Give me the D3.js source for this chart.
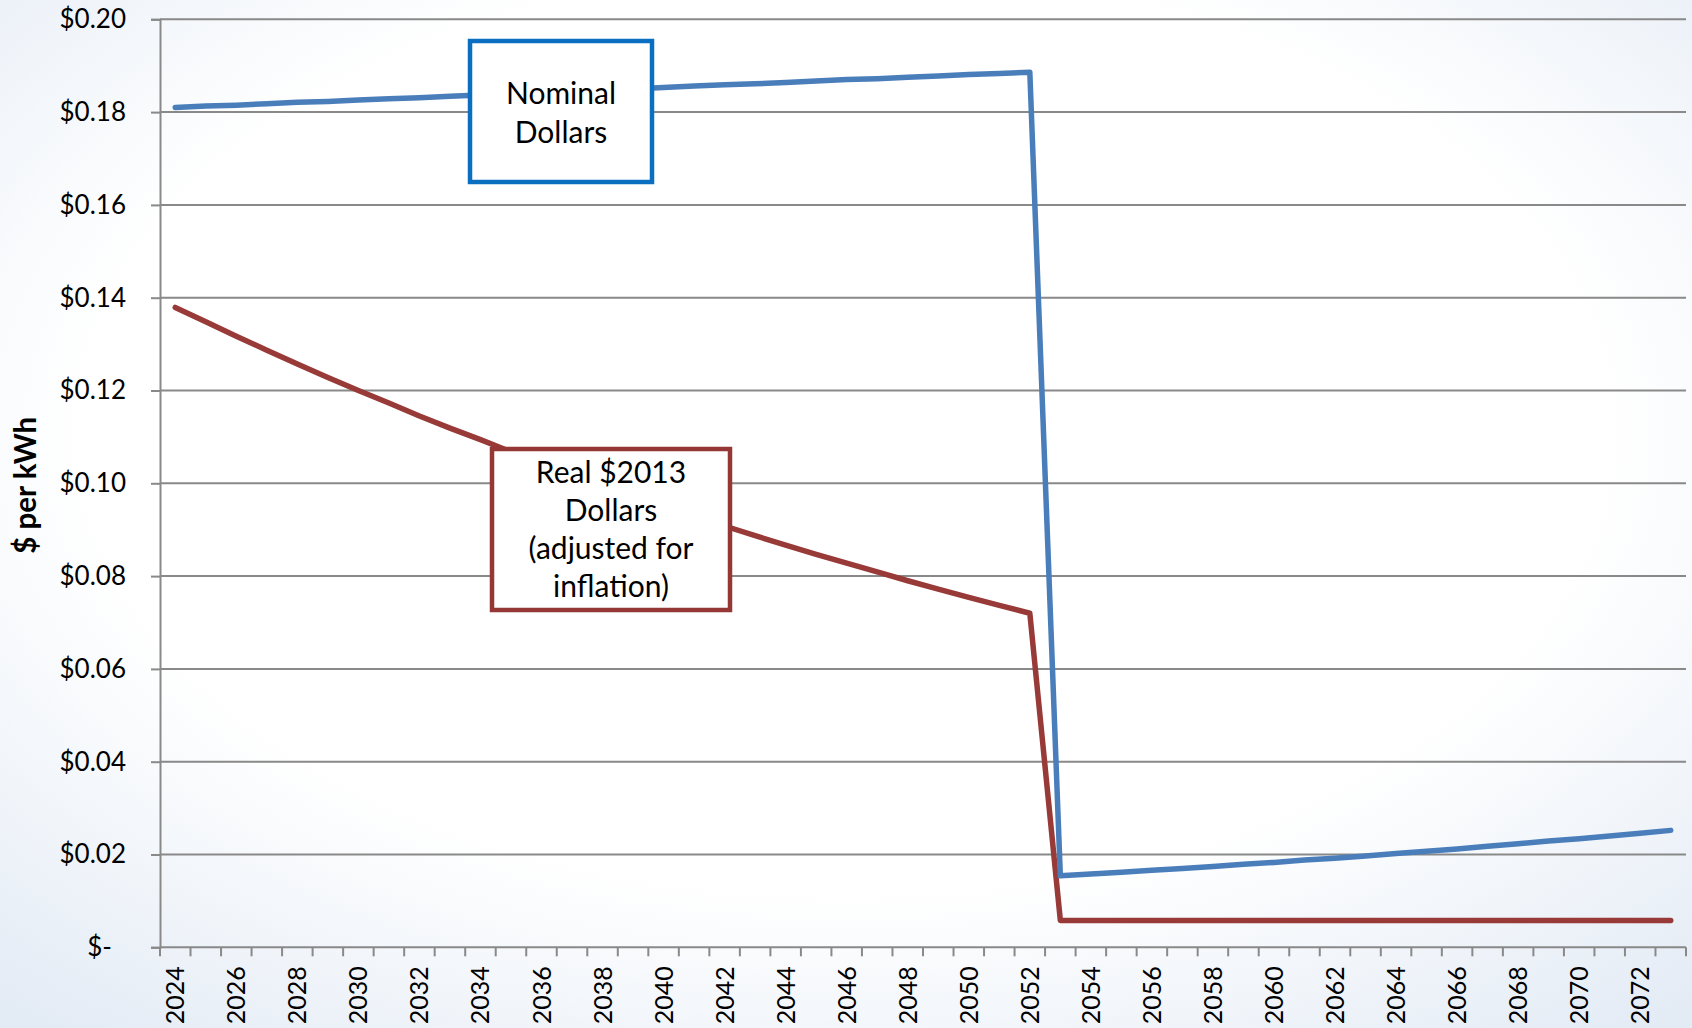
<!DOCTYPE html>
<html>
<head>
<meta charset="utf-8">
<script src="https://cdn.jsdelivr.net/npm/d3@7"></script>
<style>
  html, body { margin: 0; padding: 0; }
  body { width: 1692px; height: 1028px; overflow: hidden; }
  svg { display: block; }
</style>
</head>
<body>
<svg id="chart" width="1692" height="1028"></svg>
<script>
// Years on the category axis
const years = d3.range(2024, 2074);

// Levelized cost, nominal dollars ($/kWh)
const nominal = [
  0.1810, 0.1813, 0.1815, 0.1818, 0.1821, 0.1823, 0.1826, 0.1829, 0.1831, 0.1834,
  0.1837, 0.1839, 0.1842, 0.1845, 0.1848, 0.1850, 0.1853, 0.1856, 0.1859, 0.1861,
  0.1864, 0.1867, 0.1870, 0.1872, 0.1875, 0.1878, 0.1881, 0.1883, 0.1886,
  0.0154, 0.0158, 0.0162, 0.0166, 0.0170, 0.0174, 0.0179, 0.0183, 0.0188, 0.0192,
  0.0197, 0.0202, 0.0207, 0.0212, 0.0218, 0.0223, 0.0229, 0.0234, 0.0240, 0.0246,
  0.0252
];

// Same cost in real 2013 dollars ($/kWh)
const real2013 = [
  0.1379, 0.1348, 0.1317, 0.1287, 0.1257, 0.1228, 0.1200, 0.1173, 0.1145, 0.1119,
  0.1094, 0.1068, 0.1044, 0.1020, 0.0997, 0.0974, 0.0951, 0.0930, 0.0908, 0.0887,
  0.0867, 0.0847, 0.0828, 0.0809, 0.0790, 0.0772, 0.0754, 0.0737, 0.0720,
  0.0058, 0.0058, 0.0058, 0.0058, 0.0058, 0.0058, 0.0058, 0.0058, 0.0058, 0.0058,
  0.0058, 0.0058, 0.0058, 0.0058, 0.0058, 0.0058, 0.0058, 0.0058, 0.0058, 0.0058,
  0.0058
];

const yTicks = [0, 0.02, 0.04, 0.06, 0.08, 0.10, 0.12, 0.14, 0.16, 0.18, 0.20];
const yTitle = "$ per kWh";
const nominalLabel = ["Nominal", "Dollars"];
const realLabel = ["Real $2013", "Dollars", "(adjusted for", "inflation)"];

const W = 1692, H = 1028;
const plot = { left: 160, right: 1686, top: 19.3, bottom: 947.3 };
const FONT = "Lato, 'Open Sans', sans-serif";
const GRID = "#898989";
const BLUE = "#4a7ebb";
const RED = "#983a38";

const svg = d3.select("#chart");

// Slide background: white centre fading to a pale blue at the corners
const defs = svg.append("defs");
const bg = defs.append("radialGradient").attr("id", "bg")
  .attr("cx", "50%").attr("cy", "42%").attr("r", "75%");
bg.append("stop").attr("offset", "0%").attr("stop-color", "#ffffff");
bg.append("stop").attr("offset", "60%").attr("stop-color", "#ffffff");
bg.append("stop").attr("offset", "100%").attr("stop-color", "#e3ebf5");
svg.append("rect").attr("width", W).attr("height", H).attr("fill", "url(#bg)");

const x = d3.scaleBand().domain(years).range([plot.left, plot.right]).padding(0);
const y = d3.scaleLinear().domain([0, 0.2]).range([plot.bottom, plot.top]);
const cx = d => x(d) + x.bandwidth() / 2;

// Horizontal gridlines
svg.append("g").selectAll("line").data(yTicks.filter(v => v > 0)).join("line")
  .attr("x1", plot.left).attr("x2", plot.right)
  .attr("y1", d => y(d)).attr("y2", d => y(d))
  .attr("stroke", GRID).attr("stroke-width", 2);

// Y axis
const yAxis = svg.append("g").attr("transform", `translate(${plot.left},0)`)
  .call(d3.axisLeft(y).tickValues(yTicks).tickSize(9).tickPadding(25)
    .tickFormat(d => d === 0 ? "$-" : "$" + d3.format(".2f")(d)));
yAxis.select(".domain").attr("stroke", GRID).attr("stroke-width", 2);
yAxis.selectAll(".tick line").attr("stroke", GRID).attr("stroke-width", 2);
yAxis.selectAll(".tick text")
  .attr("font-family", FONT).attr("font-size", 26).attr("fill", "#000")
  .attr("dx", d => d === 0 ? -14 : 0);

// X axis: ticks at category boundaries, labels every other year
const xAxisG = svg.append("g").attr("transform", `translate(0,${plot.bottom})`);
xAxisG.append("line").attr("x1", plot.left).attr("x2", plot.right)
  .attr("y1", 0).attr("y2", 0).attr("stroke", GRID).attr("stroke-width", 2);
const boundaries = years.map(d => x(d)).concat([plot.right]);
xAxisG.selectAll("line.tick").data(boundaries).join("line").attr("class", "tick")
  .attr("x1", d => d).attr("x2", d => d).attr("y1", 0).attr("y2", 9)
  .attr("stroke", GRID).attr("stroke-width", 2);
xAxisG.selectAll("text").data(years.filter(d => (d - 2024) % 2 === 0)).join("text")
  .attr("transform", d => `translate(${cx(d)},19) rotate(-90)`)
  .attr("text-anchor", "end").attr("dy", "0.36em")
  .attr("font-family", FONT).attr("font-size", 25).attr("fill", "#000")
  .text(d => d);

// Y axis title
svg.append("text")
  .attr("transform", `translate(25,${(plot.top + plot.bottom) / 2 + 2}) rotate(-90)`)
  .attr("text-anchor", "middle").attr("dy", "0.36em")
  .attr("font-family", FONT).attr("font-weight", "bold").attr("font-size", 29.5)
  .attr("fill", "#000").text(yTitle);

// Series lines
const line = d3.line().x(d => cx(d.year)).y(d => y(d.v));
const series = [
  { values: real2013, color: RED },
  { values: nominal, color: BLUE }
];
series.forEach(s => {
  svg.append("path")
    .datum(years.map((yr, i) => ({ year: yr, v: s.values[i] })))
    .attr("d", line).attr("fill", "none")
    .attr("stroke", s.color).attr("stroke-width", 5.5)
    .attr("stroke-linejoin", "round").attr("stroke-linecap", "round");
});

// Callout boxes naming each series
function callout(x0, y0, w, h, stroke, lines, firstBaseline, lineStep) {
  const g = svg.append("g");
  g.append("rect").attr("x", x0).attr("y", y0).attr("width", w).attr("height", h)
    .attr("fill", "#fff").attr("stroke", stroke).attr("stroke-width", 4.5);
  g.selectAll("text").data(lines).join("text")
    .attr("x", x0 + w / 2).attr("y", (d, i) => firstBaseline + i * lineStep)
    .attr("text-anchor", "middle")
    .attr("font-family", FONT).attr("font-size", 30).attr("fill", "#000")
    .text(d => d);
}
callout(470, 41, 182, 141, "#0a6fc0", nominalLabel, 104, 39);
callout(492, 449, 238, 161, "#953735", realLabel, 483, 38);
</script>
</body>
</html>
